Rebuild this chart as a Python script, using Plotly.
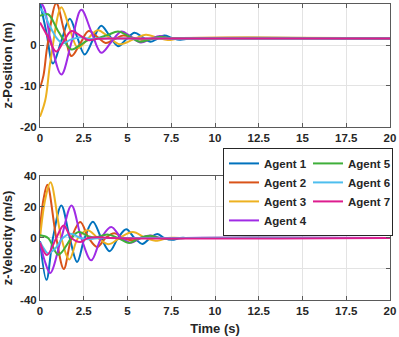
import plotly.graph_objects as go
from plotly.subplots import make_subplots

# knots: time (s), z-position (m), z-velocity (m/s)
t1 = [0, 0.37, 0.74, 1.22, 1.7, 2.12, 2.55, 3.02, 3.5, 3.98, 4.46, 4.93, 5.4, 5.85, 6.3, 6.7, 7.1, 7.55, 8.0, 8.6, 20]
z1 = [10.4, 3.0, -4.5, 1.0, 6.4, 2.0, -2.3, 1.2, 4.7, 2.2, -0.3, 1.4, 3.0, 1.9, 0.8, 1.5, 2.3, 1.7, 1.3, 1.6, 1.6]
v1 = [-2, -27, 0, 21, 0, -15.5, 0, 10.5, 0, -8.5, 0, 5.6, 0, -3.8, 0, 2.5, 0, -1.2, 0, 0, 0]

t2 = [0, 0.2, 0.42, 0.93, 1.36, 1.8, 2.3, 2.78, 3.27, 3.75, 4.25, 4.75, 5.3, 5.8, 6.5, 20]
z2 = [-10.5, -7.4, -0.2, 10.2, 3.8, -2.7, 0.4, 3.4, 2.0, 0.5, 1.4, 2.3, 1.8, 1.3, 1.6, 1.6]
v2 = [6, 25, 34.4, 0, -20, 0, 10.3, 0, -5.8, 0, 3, 0, -1.5, 0, 0, 0]

t3 = [0, 0.3, 0.6, 1.22, 1.68, 2.17, 2.73, 3.3, 3.93, 4.55, 5.3, 6.05, 6.7, 7.3, 8.0, 20]
z3 = [-17.5, -13.5, -3.9, 9.2, 4.2, -0.7, 1.5, 3.6, 1.9, 0.2, 1.3, 2.5, 1.8, 1.2, 1.6, 1.6]
v3 = [0, 25, 36, 0, -13.8, 0, 5, 0, -4, 0, 3.8, 0, -1.8, 0, 0, 0]

t4 = [0, 0.25, 0.58, 1.22, 1.8, 2.36, 2.93, 3.5, 4.07, 4.65, 5.2, 5.75, 6.3, 6.85, 7.5, 8.3, 20]
z4 = [10.6, 8.9, 1.7, -7.2, 0.7, 8.6, 3.3, -1.9, 0.7, 3.3, 2.0, 0.6, 1.4, 2.2, 1.5, 1.6, 1.6]
v4 = [-2.5, -14, -22.6, 0, 21, 0, -14.4, 0, 7.1, 0, -3, 0, 1.6, 0, -0.5, 0, 0]

t5 = [0, 0.46, 1.05, 1.8, 2.2, 2.75, 3.1, 3.85, 4.46, 5.1, 5.7, 6.3, 6.85, 7.5, 8.3, 20]
z5 = [7.1, 7.5, 3.3, -1.1, -0.3, 1.2, 1.45, 2.4, 3.3, 2.1, 0.8, 1.4, 2.0, 1.6, 1.6, 1.6]
v5 = [1.7, 0, -10.8, 0, 3.9, 1.2, 0.3, 2.2, 0, -3.2, 0, 1.5, 0, -0.4, 0, 0]

t6 = [0, 0.23, 0.46, 0.7, 0.93, 1.3, 1.75, 2.3, 2.8, 3.4, 4.2, 20]
z6 = [8.9, 7.8, 5.5, 3.5, 1.8, 0.4, 1.3, 1.9, 1.5, 1.6, 1.6, 1.6]
v6 = [-2.6, -7, -10, -8.5, -6, 0, 2.8, 0, -0.8, 0, 0, 0]

t7 = [0, 0.4, 0.93, 1.35, 1.8, 2.3, 2.74, 3.3, 4.0, 20]
z7 = [5.5, 2.4, -1.6, 0.9, 3.4, 2.3, 1.2, 1.5, 1.6, 1.6]
v7 = [-3, -11, 0, 8, 0, -2.6, 0, 0.5, 0, 0]

agents = ['Agent 1', 'Agent 2', 'Agent 3', 'Agent 4', 'Agent 5', 'Agent 6', 'Agent 7']
colors = ['#0072BD', '#D95319', '#EDB120', '#A02BE5', '#3FAF3A', '#4DBEEE', '#DD1C8E']
times = [t1, t2, t3, t4, t5, t6, t7]
positions = [z1, z2, z3, z4, z5, z6, z7]
velocities = [v1, v2, v3, v4, v5, v6, v7]
# legend is two columns: 1-4 left, 5-7 right
ranks = [1, 3, 5, 7, 2, 4, 6]

x_ticks = [0, 2.5, 5, 7.5, 10, 12.5, 15, 17.5, 20]
x_labels = ['0', '2.5', '5', '7.5', '10', '12.5', '15', '17.5', '20']
zpos_ticks = [-20, -10, 0, 10]
zpos_labels = ['-20', '-10', '0', '10']
zvel_ticks = [-40, -20, 0, 20, 40]
zvel_labels = ['-40', '-20', '0', '20', '40']

fig = make_subplots(rows=2, cols=1)

for i in range(7):
    fig.add_trace(go.Scatter(x=times[i], y=positions[i], name=agents[i], mode='lines',
                             line=dict(color=colors[i], width=2, shape='spline'),
                             showlegend=False), row=1, col=1)
for i in range(7):
    fig.add_trace(go.Scatter(x=times[i], y=velocities[i], name=agents[i], mode='lines',
                             line=dict(color=colors[i], width=2, shape='spline'),
                             legendrank=ranks[i]), row=2, col=1)

axis_style = dict(showline=True, linecolor='#5a5a5a', linewidth=1, mirror='ticks',
                  ticks='inside', ticklen=4, tickcolor='#5a5a5a',
                  showgrid=True, gridcolor='#e3e3e3', gridwidth=1, zeroline=False,
                  tickfont=dict(family='Liberation Sans', size=11.5, color='#262626', weight='bold'))
title_font = dict(family='Liberation Sans', size=13, color='#262626', weight='bold')

fig.update_xaxes(range=[0, 20], tickvals=x_ticks, ticktext=x_labels, **axis_style)
fig.update_xaxes(title=dict(text='Time (s)', font=title_font, standoff=8), row=2, col=1)
fig.update_yaxes(range=[-20, 10], tickvals=zpos_ticks, ticktext=zpos_labels,
                 title=dict(text='z-Position (m)', font=title_font), row=1, col=1, **axis_style)
fig.update_yaxes(range=[-40, 40], tickvals=zvel_ticks, ticktext=zvel_labels,
                 title=dict(text='z-Velocity (m/s)', font=title_font), row=2, col=1, **axis_style)

fig.update_layout(
    width=399, height=337,
    margin=dict(l=40, r=9, t=4, b=37, autoexpand=False),
    paper_bgcolor='white', plot_bgcolor='white',
    font=dict(family='Liberation Sans', color='#262626'),
    yaxis=dict(domain=[0.5845, 1]),
    yaxis2=dict(domain=[0, 0.419]),
    legend=dict(orientation='h', x=1.0086, xanchor='right', y=0.2165, yanchor='bottom',
                entrywidth=39, tracegroupgap=0, bgcolor='white', bordercolor='#262626', borderwidth=1,
                font=dict(family='Liberation Sans', size=11.5, color='#262626', weight='bold')),
)

# the page body has an 8px default margin; drop it so the figure sits at the window corner
fig.write_html("out.html", config={'displayModeBar': False},
               post_script="document.body.style.margin='0';")
